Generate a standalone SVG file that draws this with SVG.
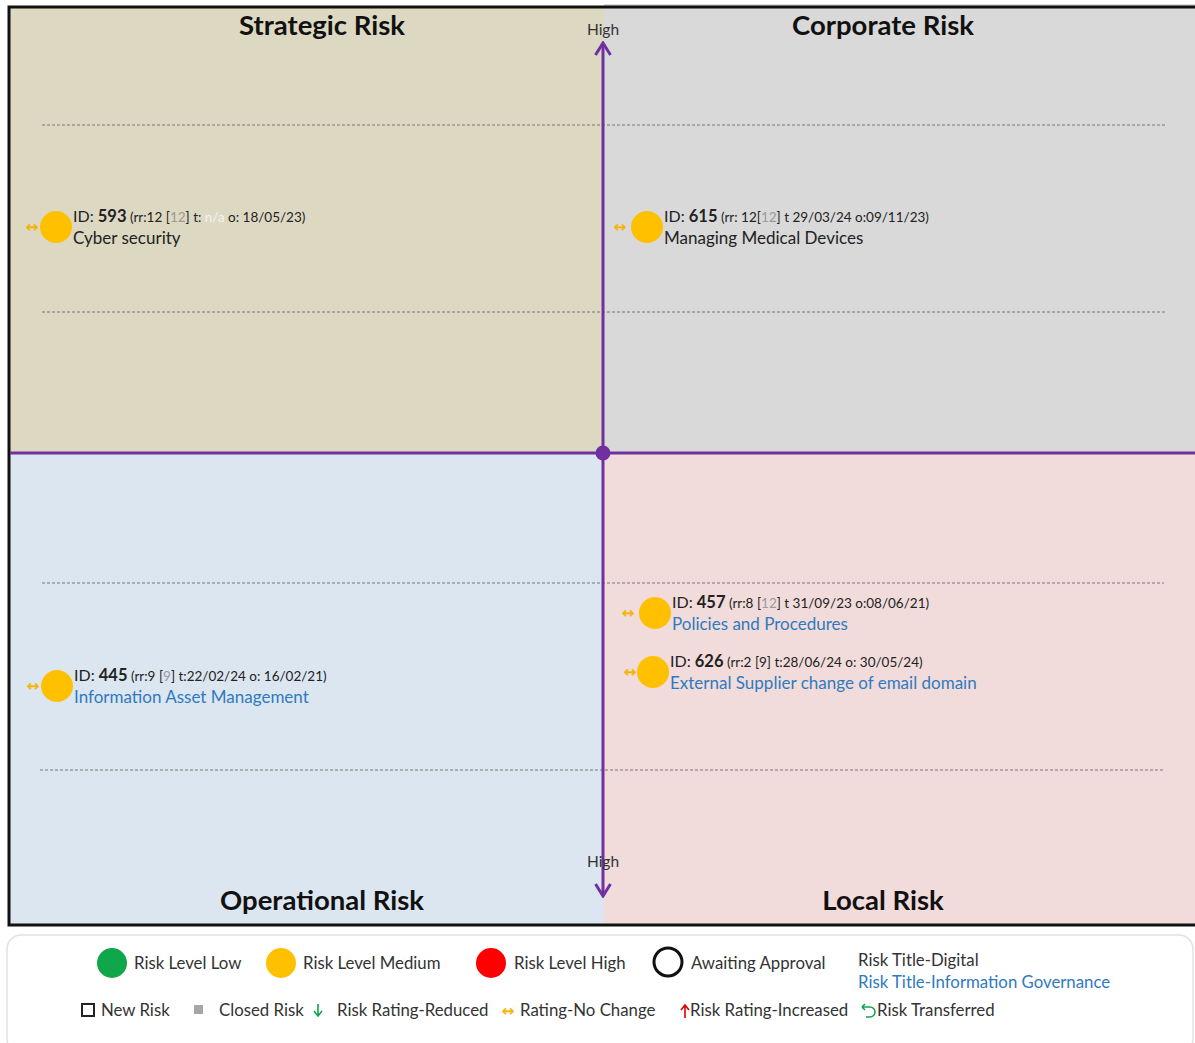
<svg xmlns="http://www.w3.org/2000/svg" width="1195" height="1043" viewBox="0 0 1195 1043">
  <style>
    text { font-family: Lato, "Liberation Sans", sans-serif; fill: #222; }
    .title { font-size: 27.5px; font-weight: bold; text-anchor: middle; fill: #111; }
    .axis-label { font-size: 15.5px; text-anchor: middle; fill: #333; }
    .id { font-size: 16px; }
    .id .num { font-weight: bold; font-size: 16.5px; }
    .id .meta { font-size: 13.5px; }
    .grey { fill: #9a9a9a; }
    .faint { fill: #f2f2f2; }
    .name { font-size: 17px; }
    .chg { font-family: "DejaVu Sans", sans-serif; font-size: 15px; fill: #f5b400; stroke: #f5b400; stroke-width: 0.4; text-anchor: middle; }
    .dash { stroke: #777; stroke-width: 1; stroke-dasharray: 3 2; fill: none; }
    .axis { stroke: #7030a0; stroke-width: 3; fill: none; }
    .dot { fill: #ffc000; }
    .leg { font-size: 16.8px; fill: #333; }
    text.blue { fill: #2f7abf; }
  </style>
  <defs>
    <!-- open chevron head, drawn along +x so orient works at both ends -->
    <marker id="head" viewBox="0 0 16 18" refX="14" refY="9" markerWidth="16" markerHeight="18" markerUnits="userSpaceOnUse" orient="auto-start-reverse">
      <path d="M2 1.5 L14 9 L2 16.5" fill="none" stroke="#7030a0" stroke-width="3"/>
    </marker>
  </defs>

  <rect width="1195" height="1043" fill="#ffffff"/>

  <!-- quadrant backgrounds -->
  <g id="quadrants">
    <rect x="9" y="6" width="595" height="447" fill="#ddd8c1"/>
    <rect x="604" y="4" width="591" height="449" fill="#d9d9d9"/>
    <rect x="9" y="453" width="595" height="473" fill="#dce6f1"/>
    <rect x="604" y="453" width="591" height="473" fill="#f1dcdb"/>
  </g>

  <!-- outer frame -->
  <path d="M1197 7 H9 V925 H1197" fill="none" stroke="#111" stroke-width="3"/>

  <!-- band guides -->
  <g id="guides">
    <line class="dash" x1="42" y1="125" x2="1165" y2="125"/>
    <line class="dash" x1="42" y1="312" x2="1165" y2="312"/>
    <line class="dash" x1="42" y1="583" x2="1164" y2="583"/>
    <line class="dash" x1="40" y1="770" x2="1164" y2="770"/>
  </g>

  <!-- quadrant titles -->
  <text class="title" x="322" y="35">Strategic Risk</text>
  <text class="title" x="883" y="35">Corporate Risk</text>
  <text class="title" x="322" y="910">Operational Risk</text>
  <text class="title" x="883" y="910">Local Risk</text>

  <!-- axes -->
  <g id="connectors">
    <line class="axis" x1="10" y1="453" x2="1195" y2="453"/>
    <line class="axis" x1="603" y1="43" x2="603" y2="896" marker-start="url(#head)" marker-end="url(#head)"/>
    <circle cx="603" cy="453" r="7.5" fill="#7030a0"/>
  </g>
  <text class="axis-label" x="603" y="35">High</text>
  <text class="axis-label" x="603" y="867">High</text>

  <!-- risks -->
  <g id="risk-593">
    <text class="chg" x="32" y="232">↔</text>
    <circle class="dot" cx="56" cy="227" r="16"/>
    <text class="id" x="73" y="222">ID: <tspan class="num">593</tspan><tspan class="meta"> (rr:12 [<tspan class="grey">12</tspan>] t: <tspan class="faint">n/a</tspan>  o: 18/05/23)</tspan></text>
    <text class="name" x="73" y="244">Cyber security</text>
  </g>

  <g id="risk-615">
    <text class="chg" x="620" y="232">↔</text>
    <circle class="dot" cx="647" cy="227" r="16"/>
    <text class="id" x="664" y="222">ID: <tspan class="num">615</tspan><tspan class="meta"> (rr: 12[<tspan class="grey">12</tspan>] t 29/03/24 o:09/11/23)</tspan></text>
    <text class="name" x="664" y="244">Managing Medical Devices</text>
  </g>

  <g id="risk-457">
    <text class="chg" x="628" y="618">↔</text>
    <circle class="dot" cx="655" cy="613" r="16"/>
    <text class="id" x="672" y="608">ID: <tspan class="num">457</tspan><tspan class="meta"> (rr:8 [<tspan class="grey">12</tspan>] t 31/09/23 o:08/06/21)</tspan></text>
    <text class="name blue" x="672" y="630">Policies and Procedures</text>
  </g>

  <g id="risk-626">
    <text class="chg" x="630" y="677">↔</text>
    <circle class="dot" cx="653" cy="672" r="16"/>
    <text class="id" x="670" y="667">ID: <tspan class="num">626</tspan><tspan class="meta"> (rr:2 [9] t:28/06/24 o: 30/05/24)</tspan></text>
    <text class="name blue" x="670" y="689">External Supplier change of email domain</text>
  </g>

  <g id="risk-445">
    <text class="chg" x="33" y="691">↔</text>
    <circle class="dot" cx="57" cy="686" r="16"/>
    <text class="id" x="74" y="681">ID: <tspan class="num">445</tspan><tspan class="meta"> (rr:9 [<tspan class="grey">9</tspan>] t:22/02/24 o: 16/02/21)</tspan></text>
    <text class="name blue" x="74" y="703">Information Asset Management</text>
  </g>

  <!-- key -->
  <g id="legend">
    <rect x="7" y="935" width="1186" height="118" rx="14" fill="#ffffff" stroke="#e2e2e2" stroke-width="1.5"/>
    <circle cx="112" cy="963" r="15" fill="#10a64a"/>
    <text class="leg" x="134" y="969">Risk Level Low</text>
    <circle cx="281" cy="963" r="15" fill="#ffc000"/>
    <text class="leg" x="303" y="969">Risk Level Medium</text>
    <circle cx="491" cy="963" r="15" fill="#ff0000"/>
    <text class="leg" x="514" y="969">Risk Level High</text>
    <circle cx="668" cy="962" r="14" fill="none" stroke="#111" stroke-width="3"/>
    <text class="leg" x="691" y="969">Awaiting Approval</text>
    <text class="leg" x="858" y="966">Risk Title-Digital</text>
    <text class="leg blue" x="858" y="988">Risk Title-Information Governance</text>

    <rect x="82" y="1004" width="12" height="12" fill="none" stroke="#222" stroke-width="2"/>
    <text class="leg" x="101" y="1016">New Risk</text>
    <rect x="194" y="1005" width="9" height="9" fill="#a6a6a6"/>
    <text class="leg" x="219" y="1016">Closed Risk</text>
    <path d="M318 1004 V1015 M314 1011 L318 1016 L322 1011" fill="none" stroke="#10a64a" stroke-width="1.6"/>
    <text class="leg" x="337" y="1016">Risk Rating-Reduced</text>
    <text class="chg" x="508" y="1016">↔</text>
    <text class="leg" x="520" y="1016">Rating-No Change</text>
    <path d="M685 1018 V1006 M681 1010 L685 1005 L689 1010" fill="none" stroke="#e00000" stroke-width="1.6"/>
    <text class="leg" x="690" y="1016">Risk Rating-Increased</text>
    <path d="M862 1007 H870 A5 5 0 0 1 870 1017 H866 M862 1007 L865 1004 M862 1007 L865 1010" fill="none" stroke="#10a64a" stroke-width="1.6"/>
    <text class="leg" x="877" y="1016">Risk Transferred</text>
  </g>
</svg>
